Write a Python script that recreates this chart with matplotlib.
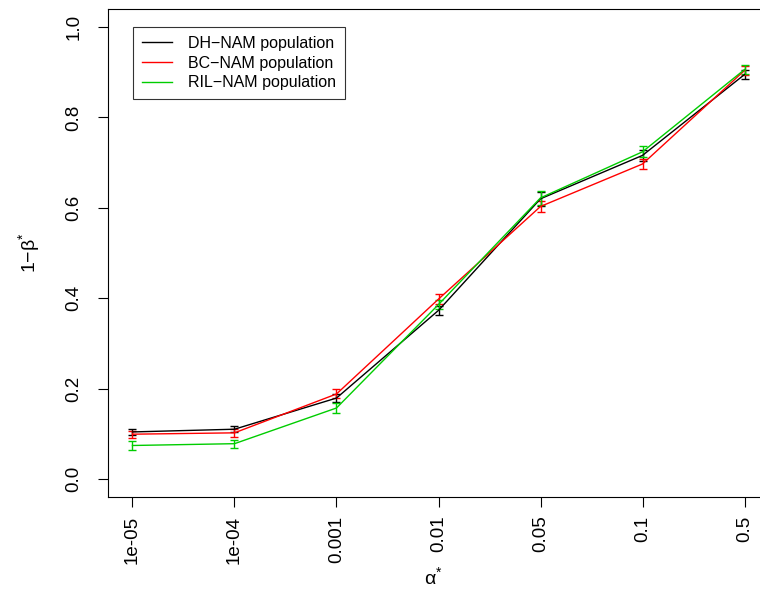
import matplotlib
matplotlib.use("Agg")
import matplotlib.pyplot as plt
from matplotlib.lines import Line2D

plt.rcParams['font.family'] = ['Liberation Sans', 'DejaVu Sans']
plt.rcParams['mathtext.fontset'] = 'custom'
plt.rcParams['mathtext.rm'] = 'Liberation Sans'

# significance levels (categorical x axis)
alpha_labels = ["1e-05", "1e-04", "0.001", "0.01", "0.05", "0.1", "0.5"]

# estimated power per population, with error bar half-widths
dh_power = [0.104, 0.110, 0.179, 0.373, 0.620, 0.716, 0.895]
dh_err = [0.007, 0.007, 0.009, 0.010, 0.015, 0.012, 0.010]
bc_power = [0.099, 0.102, 0.188, 0.398, 0.603, 0.697, 0.904]
bc_err = [0.008, 0.009, 0.010, 0.011, 0.013, 0.012, 0.010]
ril_power = [0.074, 0.078, 0.157, 0.386, 0.622, 0.724, 0.906]
ril_err = [0.009, 0.009, 0.012, 0.011, 0.015, 0.012, 0.009]

series = [
    ("DH\u2212NAM population", dh_power, dh_err, "black"),
    ("BC\u2212NAM population", bc_power, bc_err, "#FF0000"),
    ("RIL\u2212NAM population", ril_power, ril_err, "#00CD00"),
]

fig = plt.figure(figsize=(7.6, 5.91), dpi=100)
ax = fig.add_axes([108 / 760, 94 / 591, 661 / 760, 488 / 591])

x = list(range(1, len(alpha_labels) + 1))
handles = []
for name, y, e, col in series:
    ax.errorbar(x, y, yerr=e, color=col, lw=1.0, elinewidth=1.0,
                capsize=3, capthick=1.0)
    handles.append(Line2D([], [], color=col, lw=1.0, label=name))

ax.set_xlim(0.76, 7.24)
ax.set_ylim(-0.04, 1.04)
ax.set_xticks(x)
ax.set_xticklabels(alpha_labels, rotation=90)
ax.set_yticks([0.0, 0.2, 0.4, 0.6, 0.8, 1.0])
ax.set_yticklabels(["0.0", "0.2", "0.4", "0.6", "0.8", "1.0"], rotation=90, va="center")
ax.tick_params(length=7.5, width=0.8, labelsize=13.5)
ax.tick_params(axis="y", pad=11)
ax.tick_params(axis="x", pad=6)
for s in ax.spines.values():
    s.set_linewidth(0.8)

fig.text(30 / 760, 1 - 253 / 591, "1\u2212\u03b2$^{*}$", rotation=90, fontsize=14,
         ha="center", va="center")
fig.text(433 / 760, 1 - 578 / 591, "\u03b1$^{*}$", fontsize=14,
         ha="center", va="center")

leg = ax.legend(handles=handles, loc="upper left",
                bbox_to_anchor=(0.0378, 0.963, 0.321, 0.0),
                mode="expand", fontsize=11.5, frameon=True, fancybox=False,
                edgecolor="black", handlelength=1.9, handletextpad=1.0,
                labelspacing=0.3, borderpad=0.55, borderaxespad=0.0)
leg.get_frame().set_linewidth(0.8)

fig.savefig("out.png", dpi=100)
